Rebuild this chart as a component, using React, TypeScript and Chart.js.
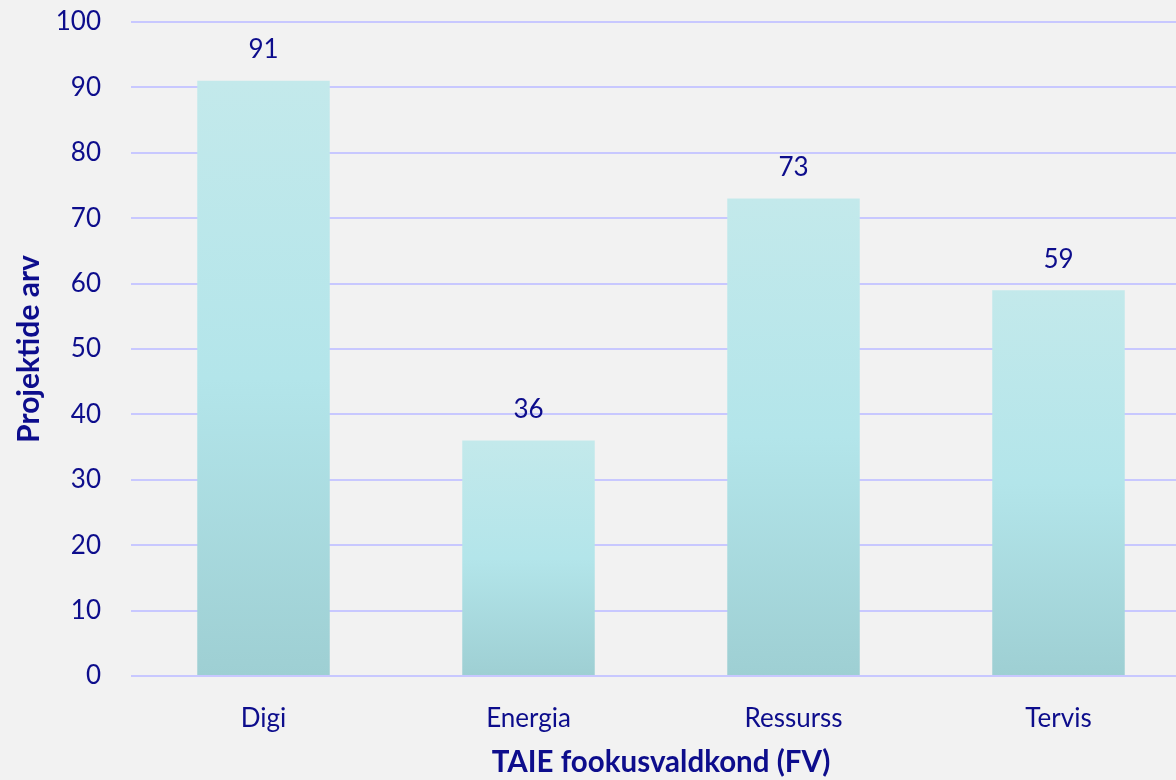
import React, { useEffect, useRef } from "react";
import { Chart, registerables } from "chart.js";

Chart.register(...registerables);

const categories = ["Digi", "Energia", "Ressurss", "Tervis"];
const values = [91, 36, 73, 59];
const yTicks = [0, 10, 20, 30, 40, 50, 60, 70, 80, 90, 100];

const TEXT = "#0d0d8c";
const FONT = "Lato, 'Open Sans', sans-serif";

const labelPlugin = {
  id: "barLabels",
  afterDatasetsDraw(chart: any) {
    const ctx = chart.ctx;
    const meta = chart.getDatasetMeta(0);
    ctx.save();
    ctx.fillStyle = TEXT;
    ctx.font = `26px ${FONT}`;
    ctx.textAlign = "center";
    ctx.textBaseline = "middle";
    meta.data.forEach((el: any, i: number) => {
      ctx.fillText(String(values[i]), el.x, el.y - 31);
    });
    ctx.restore();
  },
};

export default function App() {
  const ref = useRef<HTMLCanvasElement>(null);
  useEffect(() => {
    document.body.style.margin = "0";
    document.body.style.background = "#f2f2f2";
    const chart = new Chart(ref.current!, {
      type: "bar",
      data: {
        labels: categories,
        datasets: [
          {
            data: values,
            backgroundColor: (c: any) => {
              const ch = c.chart;
              if (!ch.chartArea || c.parsed == null) return "#b4e3e7";
              const ys = ch.scales.y;
              const top = ys.getPixelForValue(c.parsed.y);
              const bot = ys.getPixelForValue(0);
              const g = ch.ctx.createLinearGradient(0, top, 0, bot);
              g.addColorStop(0, "#c3e9eb");
              g.addColorStop(0.5, "#b3e5ea");
              g.addColorStop(1, "#9ecfd3");
              return g;
            },
            borderWidth: 0,
            categoryPercentage: 1,
            barPercentage: 0.5,
          },
        ],
      },
      options: {
        animation: false,
        responsive: false,
        layout: { padding: { top: 22, right: 1, left: 0, bottom: 0 } },
        plugins: { legend: { display: false }, tooltip: { enabled: false } },
        scales: {
          x: {
            grid: { display: false },
            border: { display: false },
            afterFit: (axis: any) => {
              axis.height = 104;
              axis.paddingLeft = 0;
              axis.paddingRight = 0;
            },
            ticks: { color: TEXT, font: { family: FONT, size: 26 }, padding: 19 },
            title: {
              display: true,
              text: "TAIE fookusvaldkond (FV)",
              color: TEXT,
              font: { family: FONT, size: 29.5, weight: "bold" },
              padding: { top: 0, bottom: 0 },
            },
          },
          y: {
            min: 0,
            max: 100,
            afterBuildTicks: (axis: any) => {
              axis.ticks = yTicks.map((v) => ({ value: v }));
            },
            afterFit: (axis: any) => {
              axis.width = 131;
              axis.paddingTop = 0;
              axis.paddingBottom = 0;
            },
            grid: { color: "#c8c8ff", lineWidth: 2, drawTicks: false },
            border: { display: false },
            ticks: { color: TEXT, font: { family: FONT, size: 26 }, padding: 30 },
            title: {
              display: true,
              text: "Projektide arv",
              color: TEXT,
              font: { family: FONT, size: 30, weight: "bold" },
              padding: { top: 11, bottom: 0 },
            },
          },
        },
      },
      plugins: [labelPlugin],
    });
    return () => chart.destroy();
  }, []);
  return (
    <div style={{ position: "absolute", left: 0, top: 0, width: 1176, height: 780, overflow: "hidden", background: "#f2f2f2" }}>
      <canvas ref={ref} width={1192} height={780} />
    </div>
  );
}
